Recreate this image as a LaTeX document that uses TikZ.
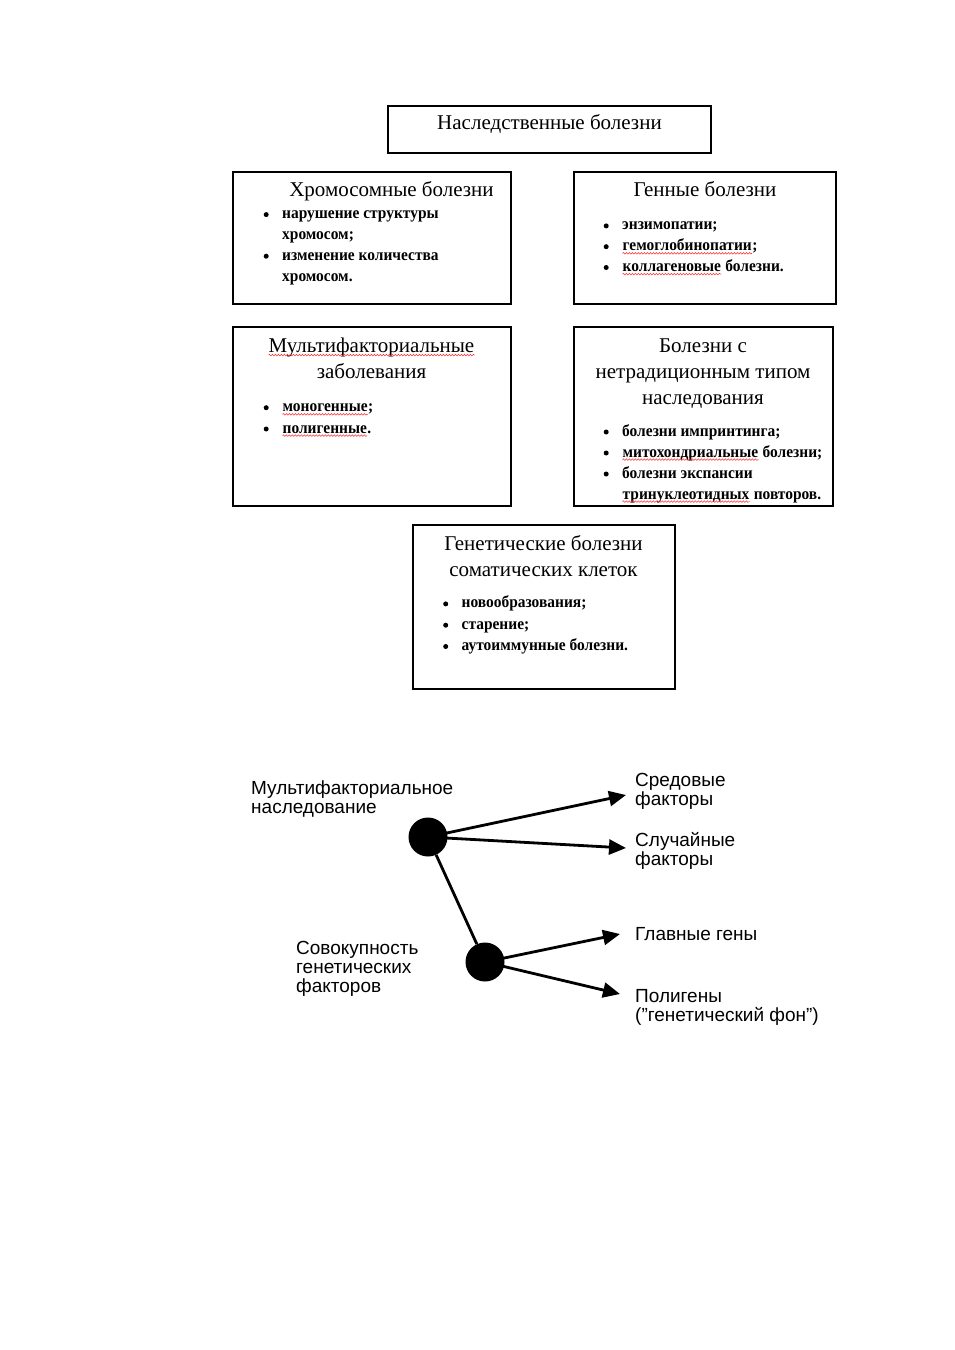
\documentclass[tikz,border=0pt]{standalone}
\usepackage{fontspec}
\setmainfont{Liberation Serif}
\newfontfamily\sansf{Liberation Sans}
\newfontfamily\itemf[FakeStretch=0.93]{Liberation Serif}
\usetikzlibrary{arrows.meta,decorations.pathmorphing}
\newcommand\rw[1]{\tikz[baseline=(rwnode.base)]{\node[inner sep=0pt, anchor=base] (rwnode) at (0,0) {#1};
  \draw[red!80!white, line width=0.55pt, decorate, decoration={snake, amplitude=0.8pt, segment length=3pt}]
   ([yshift=-2.6pt]rwnode.base west) -- ([yshift=-2.6pt]rwnode.base east);}}
\newcommand\bul{\llap{\tikz[baseline=0pt]{\fill[black] (0pt,4pt) circle (2.5pt);}\hspace{13.5pt}}}
\tikzset{
  boxnode/.style={draw, line width=2pt, rectangle, inner sep=0pt},
  head/.style={anchor=base, align=center, inner sep=0pt, font=\fontsize{21}{26}\selectfont},
  items/.style={anchor=base west, align=left, inner sep=0pt, font=\itemf\bfseries\fontsize{16.6}{#1}\selectfont},
  items/.default=20.8,
  dot/.style={circle, fill=black, inner sep=0pt, minimum size=39pt},
  conn/.style={line width=2.8pt},
  arr/.style={line width=2.8pt, -{Triangle[length=17pt,width=15pt]}},
  lab/.style={anchor=base west, align=left, inner sep=0pt, font=\sansf\fontsize{19}{19}\selectfont}
}
\begin{document}
\begin{tikzpicture}[x=1pt,y=-1pt]
\useasboundingbox (0,0) rectangle (954,1350);
\fill[white] (0,0) rectangle (954,1350);
% boxes
\node[boxnode, minimum width=323pt, minimum height=47pt] (title) at (549.5,129.5) {};
\node[boxnode, minimum width=278pt, minimum height=132pt] (chrom) at (372,238) {};
\node[boxnode, minimum width=262pt, minimum height=132pt] (gene) at (705,238) {};
\node[boxnode, minimum width=278pt, minimum height=179pt] (multi) at (372,416.5) {};
\node[boxnode, minimum width=259pt, minimum height=179pt] (nontrad) at (703.5,416.5) {};
\node[boxnode, minimum width=262pt, minimum height=164pt] (somat) at (544,607) {};
% headings (anchor = baseline of last line)
\node[head] (titleT) at (549.5,129.5) {Наследственные болезни};
\node[head] (chromT) at (391.5,196.5) {Хромосомные болезни};
\node[head] (geneT) at (705,196.5) {Генные болезни};
\node[head] (multiT) at (371.5,378.5) {\rw{Мультифакториальные}\\заболевания};
\node[head] (nontradT) at (703,404) {Болезни с\\нетрадиционным типом\\наследования};
\node[head] (somatT) at (543.5,576) {Генетические болезни\\соматических клеток};
% items (anchor = baseline of last line)
\node[items] (chromL) at (282,281) {\bul нарушение структуры\\хромосом;\\\bul изменение количества\\хромосом.};
\node[items] (geneL) at (622,271.5) {\bul энзимопатии;\\\bul \rw{гемоглобинопатии};\\\bul \rw{коллагеновые} болезни.};
\node[items=21.3] (multiL) at (282,433) {\bul \rw{моногенные};\\\bul \rw{полигенные}.};
\node[items=21] (nontradL) at (622,499) {\bul болезни импринтинга;\\\bul \rw{митохондриальные} болезни;\\\bul болезни экспансии\\\rw{тринуклеотидных} повторов.};
\node[items=21.3] (somatL) at (461.5,650.5) {\bul новообразования;\\\bul старение;\\\bul аутоиммунные болезни.};
% lower diagram
\node[dot] (c1) at (428,837) {};
\node[dot] (c2) at (485,962) {};
\coordinate (t1) at (626,795);
\coordinate (t2) at (626,848);
\coordinate (t3) at (620,934);
\coordinate (t4) at (620,994);
\draw[conn] (c1) -- (c2);
\draw[arr] (c1.center) -- (t1);
\draw[arr] (c1.center) -- (t2);
\draw[arr] (c2.center) -- (t3);
\draw[arr] (c2.center) -- (t4);
\node[lab] (lmf) at (251,813) {Мультифакториальное\\наследование};
\node[lab] (lsr) at (635,805) {Средовые\\факторы};
\node[lab] (lsl) at (635,865) {Случайные\\факторы};
\node[lab] (lgl) at (635,940) {Главные гены};
\node[lab] (lsov) at (296,992) {Совокупность\\генетических\\факторов};
\node[lab] (lpol) at (635,1021) {Полигены\\(”генетический фон”)};
\end{tikzpicture}
\end{document}
